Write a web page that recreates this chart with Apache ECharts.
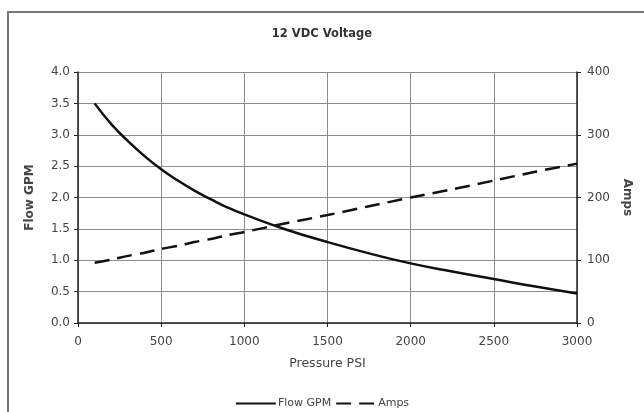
<!DOCTYPE html>
<html>
<head>
<meta charset="utf-8">
<script src="https://cdn.jsdelivr.net/npm/echarts@6/dist/echarts.min.js"></script>
<style>
  html, body { margin: 0; padding: 0; background: #fff; }
  #chart { width: 644px; height: 412px; }
</style>
</head>
<body>
<div id="chart"></div>
<script>
// Pump performance at 12 VDC
const pressure = [100, 200, 300, 400, 500, 600, 700, 800, 900, 1000, 1250, 1500, 1750, 2000, 2250, 2500, 2750, 3000];
const flowGpm  = [3.50, 3.17, 2.90, 2.66, 2.45, 2.27, 2.11, 1.97, 1.84, 1.73, 1.49, 1.29, 1.11, 0.95, 0.82, 0.70, 0.58, 0.47];
const amps     = [96, 101, 107, 112, 118, 123, 129, 134, 140, 145, 159, 172, 186, 200, 213, 227, 241, 254];
const flowTicks = [0, 0.5, 1, 1.5, 2, 2.5, 3, 3.5, 4];
const ampTicks  = [0, 100, 200, 300, 400];

const fontFamily = '"DejaVu Sans", Verdana, sans-serif';
const textColor = '#444';

const chart = echarts.init(document.getElementById('chart'), null, { renderer: 'canvas' });
chart.setOption({
  animation: false,
  backgroundColor: '#fff',
  graphic: [{
    type: 'rect',
    shape: { x: 8, y: 12, width: 700, height: 420 },
    style: { fill: 'none', stroke: '#777', lineWidth: 2 },
    silent: true
  }],
  title: {
    text: '12 VDC Voltage',
    left: 'center',
    top: 23,
    textStyle: { fontFamily, fontSize: 11.5, fontWeight: 'bold', color: '#333' }
  },
  legend: {
    top: 393,
    left: 'center',
    itemWidth: 40,
    itemHeight: 14,
    itemGap: 4,
    itemStyle: { opacity: 0 },
    textStyle: { fontFamily, fontSize: 11, color: textColor, padding: [0, 0, 0, -3] },
    data: ['Flow GPM', 'Amps']
  },
  grid: { left: 78, right: 67, top: 72, bottom: 89, containLabel: false },
  xAxis: {
    type: 'value',
    min: 0, max: 3000, interval: 500,
    name: 'Pressure PSI',
    nameLocation: 'middle',
    nameGap: 34,
    nameTextStyle: { fontFamily, fontSize: 12.5, color: textColor },
    axisLine: { show: true, lineStyle: { color: '#222', width: 1.5 } },
    axisTick: { show: true, inside: false, length: 4, lineStyle: { color: '#222' } },
    axisLabel: { fontFamily, fontSize: 12, color: textColor, margin: 13,
      formatter: v => String(v) },
    splitLine: { show: true, lineStyle: { color: '#8c8c8c', width: 1 } }
  },
  yAxis: [{
    type: 'value',
    min: flowTicks[0], max: flowTicks[flowTicks.length - 1], interval: 0.5,
    position: 'left',
    name: 'Flow GPM',
    nameLocation: 'middle',
    nameGap: 42,
    nameRotate: 90,
    nameTextStyle: { fontFamily, fontSize: 12, fontWeight: 'bold', color: textColor },
    axisLine: { show: true, lineStyle: { color: '#222', width: 1.5 } },
    axisTick: { show: true, length: 4, lineStyle: { color: '#222' } },
    axisLabel: { fontFamily, fontSize: 12, color: textColor, margin: 8,
      formatter: v => v.toFixed(1) },
    splitLine: { show: true, lineStyle: { color: '#8c8c8c', width: 1 } }
  }, {
    type: 'value',
    min: ampTicks[0], max: ampTicks[ampTicks.length - 1], interval: 100,
    position: 'right',
    name: 'Amps',
    nameLocation: 'middle',
    nameGap: 40,
    nameRotate: -90,
    nameTextStyle: { fontFamily, fontSize: 12, fontWeight: 'bold', color: textColor },
    axisLine: { show: true, lineStyle: { color: '#222', width: 1.5 } },
    axisTick: { show: true, length: 4, lineStyle: { color: '#222' } },
    axisLabel: { fontFamily, fontSize: 12, color: textColor, margin: 10 },
    splitLine: { show: false }
  }],
  series: [{
    name: 'Flow GPM',
    type: 'line',
    yAxisIndex: 0,
    smooth: 0.5,
    symbol: 'none',
    data: pressure.map((p, i) => [p, flowGpm[i]]),
    lineStyle: { color: '#111', width: 2.5, type: 'solid' },
    itemStyle: { color: '#111' }
  }, {
    name: 'Amps',
    type: 'line',
    yAxisIndex: 1,
    smooth: 0.3,
    symbol: 'none',
    data: pressure.map((p, i) => [p, amps[i]]),
    lineStyle: { color: '#111', width: 2.5, type: [15, 8] },
    itemStyle: { color: '#111' }
  }]
});
</script>
</body>
</html>
